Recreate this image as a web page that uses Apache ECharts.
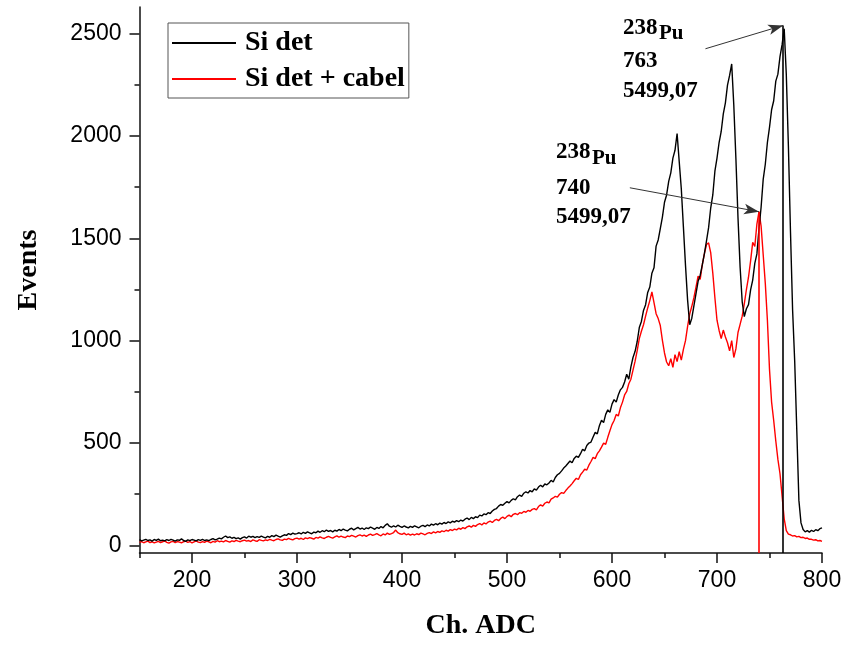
<!DOCTYPE html>
<html><head><meta charset="utf-8">
<script src="https://cdn.jsdelivr.net/npm/echarts@6/dist/echarts.min.js"></script>
<style>html,body{margin:0;padding:0;background:#fff}#c{width:864px;height:645px}</style>
</head><body><div id="c"></div>
<script>
// channel grid of the spectra
const chStart = 150;
const chStep = 2;

// "Si det" counts, channels 150..800 step 2
const siDet = [
  28,22,26,30,24,27,21,29,25,31,
  23,26,22,28,24,30,26,21,27,25,
  32,24,20,27,23,29,26,22,28,25,
  30,24,27,23,29,33,27,31,36,32,
  40,46,38,42,35,39,33,37,31,38,
  42,36,45,40,44,38,43,39,45,41,
  37,44,40,48,43,50,45,41,47,52,
  49,58,53,60,55,58,62,56,64,59,
  66,61,57,65,62,70,64,72,67,75,
  69,73,66,74,70,78,72,80,75,71,
  79,84,76,82,88,80,85,78,86,82,
  90,84,79,88,83,92,86,98,106,94,
  89,96,90,99,93,88,95,90,86,93,
  88,96,91,86,94,98,92,100,95,104,
  99,106,101,109,104,112,107,115,110,118,
  114,121,116,124,119,128,134,126,137,131,
  140,136,148,144,154,150,160,156,168,176,
  180,192,200,196,206,214,208,220,228,222,
  238,246,240,255,262,256,268,262,276,270,
  285,294,286,300,296,305,318,310,332,345,
  352,364,378,388,400,412,404,425,436,430,
  448,470,462,488,500,505,530,552,545,585,
  612,600,640,662,650,690,712,700,735,760,
  772,798,836,812,872,918,948,996,1064,1094,
  1148,1176,1236,1262,1330,1356,1462,1492,1548,1604,
  1676,1712,1778,1820,1892,1930,2012,1876,1742,1556,
  1368,1198,1078,1110,1170,1230,1290,1320,1370,1425,
  1488,1552,1648,1712,1828,1892,1968,2022,2108,2162,
  2248,2296,2352,2150,1890,1600,1360,1190,1118,1156,
  1176,1248,1296,1378,1424,1548,1652,1788,1862,1968,
  2042,2128,2172,2268,2302,2388,2446,2524,2300,1950,
  1530,1150,900,560,220,110,78,66,72,65,
  74,68,77,72,82,86
];

// "Si det + cabel" counts, channels 150..800 step 2
const siDetCabel = [
  15,19,13,17,21,14,18,12,16,20,
  14,18,22,15,11,17,20,14,19,16,
  13,18,21,15,19,12,17,22,16,14,
  19,15,21,17,13,20,16,23,18,21,
  17,24,20,16,22,19,25,21,18,23,
  26,21,24,19,27,23,20,28,25,22,
  27,24,30,26,23,29,32,27,25,31,
  28,34,30,27,33,36,31,35,29,37,
  33,38,35,31,39,36,42,37,34,40,
  44,39,36,42,47,40,45,41,38,46,
  43,49,45,41,48,52,46,50,44,51,
  55,49,53,58,52,47,56,51,60,54,
  58,63,75,62,57,54,60,52,56,50,
  55,51,57,53,60,56,52,59,63,58,
  66,61,68,64,71,67,74,70,77,73,
  80,76,84,79,87,82,91,95,89,98,
  93,102,107,100,110,105,114,119,112,122,
  127,121,132,138,131,142,148,140,152,156,
  150,160,157,166,162,171,167,176,180,174,
  190,198,192,206,212,208,226,232,240,236,
  250,258,254,268,280,290,302,316,328,322,
  345,358,372,368,392,410,430,424,448,462,
  480,500,494,528,560,590,610,640,632,672,
  700,735,752,790,812,856,900,952,1010,1046,
  1078,1120,1160,1196,1238,1186,1132,1108,1074,1002,
  940,896,878,912,870,932,898,946,905,958,
  1000,1070,1130,1168,1210,1262,1316,1300,1372,1425,
  1470,1478,1430,1330,1210,1100,1050,1010,1052,1018,
  990,950,1000,918,960,1040,1080,1120,1180,1250,
  1310,1390,1480,1460,1570,1630,1560,1420,1280,1100,
  860,700,610,510,420,350,240,130,72,55,
  52,46,48,42,44,38,40,34,36,30,
  30,26,28,22,24,20
];

const seriesNames = ['Si det', 'Si det + cabel'];
const xMajorTicks = [200, 300, 400, 500, 600, 700, 800];
const xMinorTicks = [150, 250, 350, 450, 550, 650, 750];
const yMajorTicks = [0, 500, 1000, 1500, 2000, 2500];
const yMinorTicks = [250, 750, 1250, 1750, 2250];
const xRange = [150, 800];
const yRange = [-37, 2630];

// marked peaks [channel, counts] and arrow tails
const peakSiDet = [763, 2540];
const peakSiDetCabel = [740, 1630];
const arrowTailSiDet = [689, 2426];
const arrowTailSiDetCabel = [617, 1747];

const toPairs = vals => vals.map((v, i) => [chStart + i * chStep, v]);
const plain = v => String(v);

const labelFont = { fontFamily: '"Liberation Sans", Arial, sans-serif', fontSize: 23, color: '#000' };
const serifBold = '"Liberation Serif", "Times New Roman", serif';
const axisColor = '#111';

const chart = echarts.init(document.getElementById('c'), null, { renderer: 'canvas' });
chart.setOption({
  animation: false,
  backgroundColor: '#fff',
  grid: { left: 139.5, right: 42, top: 7, bottom: 88, containLabel: false },
  legend: {
    data: seriesNames,
    orient: 'vertical',
    left: 168, top: 23,
    padding: [6, 4, 5, 4],
    itemGap: 8,
    itemWidth: 64, itemHeight: 2,
    icon: 'rect',
    borderColor: '#555', borderWidth: 1,
    textStyle: { fontFamily: serifBold, fontWeight: 'bold', fontSize: 28, lineHeight: 28, color: '#000', padding: [0, 0, 0, 4] }
  },
  xAxis: [{
    type: 'value', min: xRange[0], max: xRange[1], position: 'bottom',
    name: 'Ch. ADC', nameLocation: 'middle', nameGap: 59,
    nameTextStyle: { fontFamily: serifBold, fontWeight: 'bold', fontSize: 28, color: '#000' },
    axisLine: { show: true, onZero: false, lineStyle: { color: axisColor, width: 1.5 } },
    axisTick: { show: true, inside: false, length: 10, customValues: xMajorTicks, lineStyle: { color: axisColor, width: 1.5 } },
    axisLabel: Object.assign({ show: true, margin: 16, customValues: xMajorTicks, formatter: plain }, labelFont),
    splitLine: { show: false }
  }, {
    type: 'value', min: xRange[0], max: xRange[1], position: 'bottom',
    axisLine: { show: false, onZero: false },
    axisTick: { show: true, inside: false, length: 5, customValues: xMinorTicks, lineStyle: { color: axisColor, width: 1.5 } },
    axisLabel: { show: false },
    splitLine: { show: false }
  }],
  yAxis: [{
    type: 'value', min: yRange[0], max: yRange[1], position: 'left',
    axisLine: { show: true, onZero: false, lineStyle: { color: axisColor, width: 1.5 } },
    axisTick: { show: true, inside: false, length: 10, customValues: yMajorTicks, lineStyle: { color: axisColor, width: 1.5 } },
    axisLabel: Object.assign({ show: true, margin: 18, customValues: yMajorTicks, formatter: plain }, labelFont),
    splitLine: { show: false }
  }, {
    type: 'value', min: yRange[0], max: yRange[1], position: 'left',
    axisLine: { show: false, onZero: false },
    axisTick: { show: true, inside: false, length: 5, customValues: yMinorTicks, lineStyle: { color: axisColor, width: 1.5 } },
    axisLabel: { show: false },
    splitLine: { show: false }
  }],
  series: [{
    name: seriesNames[1], type: 'line', z: 2,
    data: toPairs(siDetCabel), showSymbol: false, symbol: 'none',
    color: '#ff0000', itemStyle: { color: '#ff0000' },
    lineStyle: { color: '#ff0000', width: 1.4 },
    markLine: {
      silent: true, symbol: 'none', label: { show: false },
      lineStyle: { color: '#ff0000', width: 1.6, type: 'solid' },
      data: [[{ coord: [peakSiDetCabel[0], yRange[0]] }, { coord: peakSiDetCabel }]]
    }
  }, {
    name: seriesNames[0], type: 'line', z: 3,
    data: toPairs(siDet), showSymbol: false, symbol: 'none',
    color: '#000', itemStyle: { color: '#000' },
    lineStyle: { color: '#000', width: 1.4 },
    markLine: {
      silent: true, symbol: 'none', label: { show: false },
      lineStyle: { color: '#000', width: 1.6, type: 'solid' },
      data: [[{ coord: [peakSiDet[0], yRange[0]] }, { coord: peakSiDet }]]
    }
  }, {
    name: 'arrows', type: 'line', data: [], z: 4,
    markLine: {
      silent: true, symbol: ['none', 'arrow'], symbolSize: [8, 15], label: { show: false },
      lineStyle: { color: '#333', width: 1, type: 'solid' },
      data: [
        [{ coord: arrowTailSiDet }, { coord: peakSiDet }],
        [{ coord: arrowTailSiDetCabel }, { coord: peakSiDetCabel }]
      ]
    }
  }],
  graphic: [
    { type: 'text', x: 29, y: 270, rotation: Math.PI / 2,
      style: { text: 'Events', font: 'bold 28px ' + serifBold, fill: '#000', align: 'center', verticalAlign: 'middle' } },
    { type: 'text', x: 623, y: 28, style: { text: '238', font: 'bold 23px ' + serifBold, fill: '#000', align: 'left', verticalAlign: 'middle' } },
    { type: 'text', x: 659, y: 34, style: { text: 'Pu', font: 'bold 21px ' + serifBold, fill: '#000', align: 'left', verticalAlign: 'middle' } },
    { type: 'text', x: 623, y: 61, style: { text: '763', font: 'bold 23px ' + serifBold, fill: '#000', align: 'left', verticalAlign: 'middle' } },
    { type: 'text', x: 623, y: 91, style: { text: '5499,07', font: 'bold 23px ' + serifBold, fill: '#000', align: 'left', verticalAlign: 'middle' } },
    { type: 'text', x: 556, y: 152, style: { text: '238', font: 'bold 23px ' + serifBold, fill: '#000', align: 'left', verticalAlign: 'middle' } },
    { type: 'text', x: 592, y: 159, style: { text: 'Pu', font: 'bold 21px ' + serifBold, fill: '#000', align: 'left', verticalAlign: 'middle' } },
    { type: 'text', x: 556, y: 188, style: { text: '740', font: 'bold 23px ' + serifBold, fill: '#000', align: 'left', verticalAlign: 'middle' } },
    { type: 'text', x: 556, y: 217, style: { text: '5499,07', font: 'bold 23px ' + serifBold, fill: '#000', align: 'left', verticalAlign: 'middle' } }
  ]
});
</script>
</body></html>
